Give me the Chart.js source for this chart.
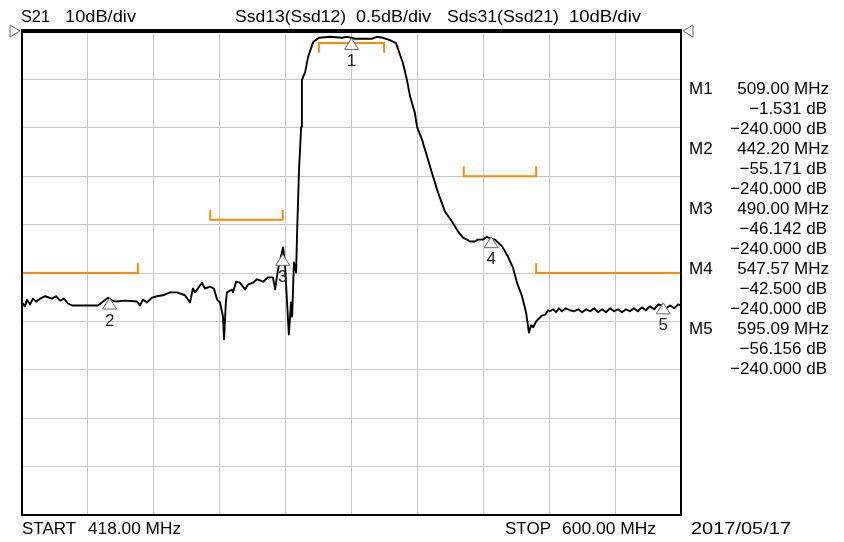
<!DOCTYPE html>
<html>
<head>
<meta charset="utf-8">
<script src="https://cdn.jsdelivr.net/npm/chart.js@4"></script>
<style>
  body { margin: 0; background: #fff; }
</style>
</head>
<body>
<canvas id="myChart" width="844" height="542"></canvas>
<script>
// sweep
const startMHz = 418.00;
const stopMHz = 600.00;
const dbTop = 0;
const dbPerDiv = 10;
const divisions = 10;

// S21 trace
const freqMHz = [
  418.0, 418.8, 419.4, 420.2, 421.0, 421.9, 423.0, 424.4, 426.3, 427.4,
  428.5, 429.6, 430.7, 431.8, 435.4, 439.0, 440.4, 441.8, 442.9, 444.2,
  446.4, 449.8, 450.6, 451.4, 452.5, 453.9, 455.3, 456.9, 458.9, 460.8,
  463.0, 464.4, 465.2, 465.8, 467.7, 468.5, 469.9, 471.0, 471.9, 472.7,
  473.5, 473.8, 474.3, 474.6, 476.0, 476.3, 477.1, 478.2, 479.6, 480.4,
  481.8, 482.9, 484.6, 485.9, 487.3, 487.9, 488.7, 490.1, 490.6, 491.2,
  491.7, 492.3, 492.6, 493.1, 493.7, 494.0, 494.5, 495.1, 495.3, 496.2,
  497.0, 498.4, 500.0, 503.1, 506.4, 507.8, 510.0, 514.7, 516.0, 517.7,
  519.6, 521.3, 522.4, 523.2, 524.3, 525.2, 526.5, 527.1, 528.5, 529.9,
  531.2, 532.9, 534.8, 536.8, 538.4, 539.8, 540.9, 541.7, 543.1, 543.9,
  545.3, 546.4, 547.3, 548.6, 550.6, 552.2, 553.6, 554.7, 556.1, 557.2,
  558.0, 558.6, 559.2, 560.0, 560.5, 561.6, 562.5, 563.3, 563.8, 564.7,
  565.5, 566.3, 567.1, 568.2, 569.3, 570.5, 571.6, 572.7, 573.8, 574.9,
  576.0, 577.1, 578.2, 579.3, 580.4, 581.5, 582.6, 583.7, 584.8, 585.9,
  587.0, 588.1, 589.2, 590.3, 591.4, 592.6, 593.7, 594.8, 595.9, 597.0,
  598.1, 599.2, 600.0
];
const s21Db = [
  -56.1, -56.9, -55.5, -56.5, -55.3, -55.9, -55.3, -54.8, -55.3, -54.8,
  -55.7, -55.3, -56.3, -56.7, -56.7, -56.7, -55.9, -55.1, -55.7, -55.9,
  -55.7, -55.9, -56.7, -55.5, -56.1, -55.1, -54.8, -54.6, -54.0, -54.0,
  -54.6, -56.1, -53.2, -54.0, -52.0, -53.2, -52.8, -53.2, -55.5, -56.1,
  -59.0, -63.7, -56.1, -54.0, -53.4, -54.0, -51.8, -52.0, -53.4, -52.4,
  -52.0, -51.3, -51.8, -50.9, -50.9, -53.4, -49.3, -44.7, -47.8, -56.1,
  -62.7, -56.1, -59.0, -47.8, -49.9, -41.0, -28.7, -19.8, -10.1, -8.5,
  -5.4, -2.3, -1.4, -1.2, -1.4, -1.2, -1.6, -1.6, -1.2, -1.4,
  -1.9, -2.5, -4.9, -6.6, -10.1, -13.6, -16.9, -19.8, -22.5, -26.0,
  -29.3, -33.4, -37.3, -39.4, -41.4, -42.7, -43.1, -43.5, -43.5, -43.1,
  -43.1, -42.5, -42.9, -43.1, -44.5, -46.6, -48.9, -52.0, -54.8, -58.1,
  -62.3, -60.8, -61.2, -60.0, -59.6, -58.8, -58.6, -57.7, -57.9, -57.5,
  -58.1, -57.3, -57.9, -57.3, -57.7, -57.9, -57.5, -58.1, -57.5, -57.9,
  -57.3, -58.1, -57.5, -58.1, -57.3, -57.9, -57.5, -58.1, -57.5, -57.9,
  -57.3, -57.9, -57.1, -57.7, -56.9, -57.5, -56.5, -56.7, -57.3, -56.7,
  -57.3, -56.5, -56.7
];

// markers
const markerMHz = [509.00, 442.20, 490.00, 547.57, 595.09];
const markerDb = [-1.531, -55.171, -46.142, -42.500, -56.156];
const markerOtherDb = [-240.000, -240.000, -240.000, -240.000, -240.000];

// limit lines
const maskStartMHz = [418, 470, 500, 540, 560];
const maskStopMHz = [450, 490, 518, 560, 600];
const maskDb = [-50, -39, -2.5, -30, -50];
const maskKind = ['max', 'max', 'min', 'max', 'max'];

const xGridMHz = [];
for (let i = 0; i <= divisions; i++) xGridMHz.push(startMHz + i * (stopMHz - startMHz) / divisions);

const tracePts = freqMHz.map((f, i) => ({ x: f, y: s21Db[i] }));
const maskPts = [];
maskStartMHz.forEach((s, i) => {
  const t = maskKind[i] === 'max' ? 2 : -2;
  const e = maskStopMHz[i];
  maskPts.push({ x: s, y: maskDb[i] + t }, { x: s, y: maskDb[i] }, { x: e, y: maskDb[i] }, { x: e, y: maskDb[i] + t }, { x: e, y: null });
});

const minus = v => v.toFixed(3).replace('-', '\u2212');
const FONT = '17px "Liberation Sans", Arial, sans-serif';

// draw text squeezed/stretched to the width it has on the analyzer screen
function fitText(ctx, s, x, y, w) {
  const m = ctx.measureText(s).width;
  ctx.save();
  ctx.translate(x, y);
  ctx.scale(w / m, 1);
  ctx.textAlign = 'left';
  ctx.fillText(s, 0, 0);
  ctx.restore();
}

const screenPlugin = {
  id: 'screen',
  afterDatasetsDraw(chart) {
    const ctx = chart.ctx, a = chart.chartArea;
    const xs = chart.scales.x, ys = chart.scales.y;
    ctx.save();
    // marker triangles
    ctx.font = FONT;
    ctx.textAlign = 'center';
    ctx.textBaseline = 'middle';
    markerMHz.forEach((f, i) => {
      const px = xs.getPixelForValue(f), py = ys.getPixelForValue(markerDb[i]);
      ctx.beginPath();
      ctx.moveTo(px, py);
      ctx.lineTo(px - 7, py + 11);
      ctx.lineTo(px + 7, py + 11);
      ctx.closePath();
      ctx.fillStyle = '#fff';
      ctx.fill();
      ctx.strokeStyle = '#666';
      ctx.lineWidth = 1;
      ctx.stroke();
      ctx.fillStyle = '#222';
      ctx.fillText(String(i + 1), px, py + 23);
    });
    // frame
    ctx.strokeStyle = '#000';
    ctx.lineWidth = 2;
    ctx.strokeRect(a.left, a.top, a.right - a.left, a.bottom - a.top);
    ctx.fillStyle = '#000';
    ctx.fillRect(a.left - 1, a.top - 2, a.right - a.left + 2, 4);
    // reference level arrows
    ctx.strokeStyle = '#666';
    ctx.lineWidth = 1;
    ctx.beginPath();
    ctx.moveTo(10, a.top - 6); ctx.lineTo(20, a.top); ctx.lineTo(10, a.top + 6); ctx.closePath();
    ctx.moveTo(a.right + 12, a.top - 6); ctx.lineTo(a.right + 2, a.top); ctx.lineTo(a.right + 12, a.top + 6); ctx.closePath();
    ctx.fillStyle = '#fff';
    ctx.fill();
    ctx.stroke();
    ctx.restore();
  },
  afterDraw(chart) {
    const ctx = chart.ctx;
    ctx.save();
    ctx.font = FONT;
    ctx.fillStyle = '#000';
    ctx.textBaseline = 'middle';
    // header
    fitText(ctx, 'S21', 21, 17, 29);
    fitText(ctx, '10dB/div', 65, 17, 71);
    fitText(ctx, 'Ssd13(Ssd12)', 235, 17, 111);
    fitText(ctx, '0.5dB/div', 356, 17, 75);
    fitText(ctx, 'Sds31(Ssd21)', 447, 17, 112);
    fitText(ctx, '10dB/div', 569, 17, 72);
    // footer
    fitText(ctx, 'START', 22, 529, 54);
    fitText(ctx, startMHz.toFixed(2) + ' MHz', 88, 529, 93);
    fitText(ctx, 'STOP', 505, 529, 46);
    fitText(ctx, stopMHz.toFixed(2) + ' MHz', 562, 529, 94);
    fitText(ctx, '2017/05/17', 691, 529, 100);
    // marker readout
    markerMHz.forEach((f, i) => {
      const y0 = 89 + i * 60;
      ctx.textAlign = 'left';
      ctx.fillText('M' + (i + 1), 689, y0);
      ctx.textAlign = 'right';
      ctx.fillText(f.toFixed(2) + ' MHz', 829, y0);
      ctx.fillText(minus(markerDb[i]) + ' dB', 827, y0 + 20);
      ctx.fillText(minus(markerOtherDb[i]) + ' dB', 827, y0 + 40);
    });
    ctx.restore();
  }
};

new Chart(document.getElementById("myChart"), {
  type: 'line',
  data: {
    datasets: [{
      data: tracePts,
      borderColor: '#000',
      borderWidth: 1.9,
      borderJoinStyle: 'round',
      pointRadius: 0,
      tension: 0,
      fill: false
    }, {
      data: maskPts,
      borderColor: '#ff8a00',
      borderWidth: 2,
      pointRadius: 0,
      spanGaps: false,
      fill: false
    }]
  },
  options: {
    responsive: false,
    animation: false,
    events: [],
    layout: { padding: { left: 22, right: 163, top: 31, bottom: 27 } },
    plugins: { legend: { display: false }, tooltip: { enabled: false } },
    scales: {
      x: {
        type: 'linear', min: startMHz, max: stopMHz,
        afterBuildTicks: axis => { axis.ticks = xGridMHz.map(v => ({ value: v })); },
        ticks: { display: false },
        grid: { color: '#c8c8c8', drawTicks: false },
        border: { display: false }
      },
      y: {
        min: dbTop - dbPerDiv * divisions, max: dbTop,
        ticks: { display: false, stepSize: dbPerDiv },
        grid: { color: '#c8c8c8', drawTicks: false },
        border: { display: false }
      }
    }
  },
  plugins: [screenPlugin]
});
</script>
</body>
</html>
